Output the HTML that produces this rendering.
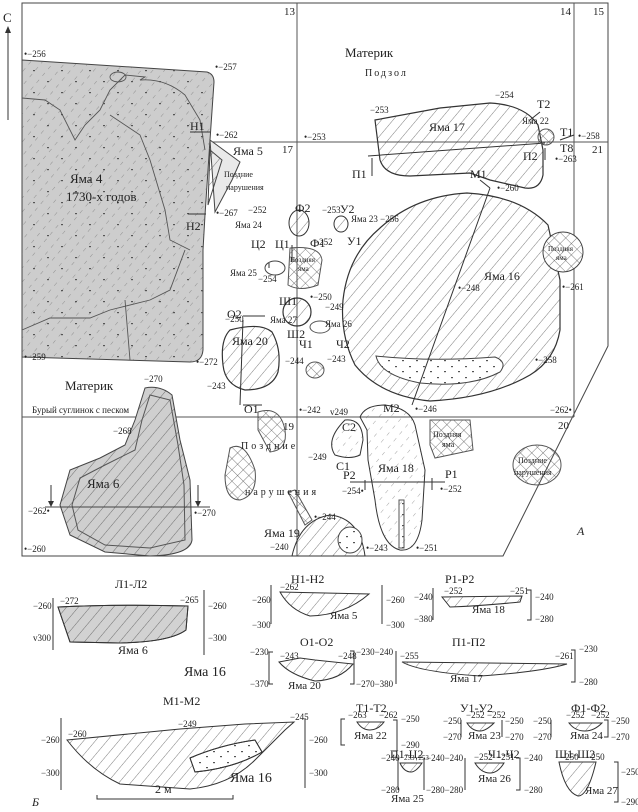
<!DOCTYPE html>
<html><head><meta charset="utf-8"><style>
html,body{margin:0;padding:0;background:#fff}
svg{display:block}
text{font-family:"Liberation Serif",serif;fill:#222}
</style></head><body>
<svg width="638" height="812" viewBox="0 0 638 812" xmlns="http://www.w3.org/2000/svg">
<defs>
<pattern id="h" width="9" height="9" patternUnits="userSpaceOnUse" patternTransform="rotate(40)">
<line x1="0" y1="0" x2="0" y2="9" stroke="#444" stroke-width="0.7"/></pattern>
<pattern id="hd" width="9" height="9" patternUnits="userSpaceOnUse" patternTransform="rotate(40)">
<line x1="0" y1="0" x2="0" y2="4" stroke="#666" stroke-width="0.6"/></pattern>
<pattern id="x" width="8" height="8" patternUnits="userSpaceOnUse" patternTransform="rotate(45)">
<line x1="0" y1="0" x2="0" y2="8" stroke="#444" stroke-width="0.7"/><line x1="0" y1="0" x2="8" y2="0" stroke="#444" stroke-width="0.7"/></pattern>
<pattern id="d" width="14" height="11" patternUnits="userSpaceOnUse">
<rect x="3" y="3" width="2" height="1.2" fill="#555"/><rect x="10" y="8" width="2" height="1.2" fill="#555"/></pattern>
<pattern id="ds" width="28" height="22" patternUnits="userSpaceOnUse">
<rect x="5" y="4" width="2" height="1.2" fill="#555"/><rect x="19" y="15" width="2" height="1.2" fill="#555"/></pattern>
</defs>
<g fill="none" stroke="#555" stroke-width="1">
<path d="M22 3 H608 V346 L503 556 H22 Z" stroke="#444"/>
<line x1="297" y1="3" x2="297" y2="556"/>
<line x1="574" y1="3" x2="574" y2="417"/>
<line x1="22" y1="142" x2="608" y2="142"/>
<line x1="22" y1="417" x2="574" y2="417"/>
</g>
<line x1="8" y1="120" x2="8" y2="30" stroke="#333"/><path d="M8 26 l-3 7 h6z" fill="#333"/>
<text x="3" y="22" font-size="13">С</text>
<text x="284" y="15" font-size="11">13</text><text x="560" y="15" font-size="11">14</text><text x="593" y="15" font-size="11">15</text>
<text x="592" y="153" font-size="11">21</text><text x="282" y="153" font-size="11">17</text>
<text x="283" y="430" font-size="11">19</text><text x="558" y="429" font-size="11">20</text>
<!-- Yama 4 -->
<path d="M22 60 L207 72 Q214 74 214 82 L210 140 L205 215 L203 250 L203 350 Q202 362 190 362 L22 357 Z" fill="#cdcdcd" stroke="#444"/>
<path d="M22 60 L207 72 Q214 74 214 82 L210 140 L205 215 L203 250 L203 350 Q202 362 190 362 L22 357 Z" fill="url(#hd)"/>
<path d="M22 60 L207 72 Q214 74 214 82 L210 140 L205 215 L203 250 L203 350 Q202 362 190 362 L22 357 Z" fill="url(#ds)"/>
<g fill="none" stroke="#555" stroke-width="0.9">
<path d="M22 98 L45 100 L60 110 L75 140 L85 125 L100 110 L110 90 L125 75 L145 77 L140 80 Q165 78 185 95 L200 120 L205 150"/>
<path d="M110 115 L140 135 L150 160 L165 210 L170 240 L190 250"/>
<path d="M22 330 L50 318 L90 318 L110 310 L150 300 L170 290 L185 250"/>
<path d="M125 300 L130 360"/>
<ellipse cx="118" cy="77" rx="8" ry="5"/>
</g>
<path d="M210 140 L240 162 L232 180 L215 212 Z" fill="#e9e9e9" stroke="#444"/>
<path d="M210 150 L222 160 L208 205 Z" fill="url(#h)" stroke="#444"/>
<!-- Yama 6 -->
<path d="M145 388 Q160 385 172 395 L180 440 L190 480 L192 540 Q190 555 150 556 L105 552 L70 535 L60 505 L70 470 L100 458 L125 445 L135 420 Z" fill="#cfcfcf" stroke="#444"/>
<path d="M145 388 Q160 385 172 395 L180 440 L190 480 L192 540 Q190 555 150 556 L105 552 L70 535 L60 505 L70 470 L100 458 L125 445 L135 420 Z" fill="url(#h)"/>
<path d="M150 395 L170 400 L178 445 L184 485 L185 540 L150 548 L105 545 L78 530 L72 505 L80 478 L105 465 L135 450 L142 420 Z" fill="none" stroke="#555"/>
<line x1="45" y1="507" x2="210" y2="507" stroke="#444"/>
<path d="M51 485 V505 M198 485 V505" stroke="#333"/><path d="M51 507 l-3 -6 h6z M198 507 l-3 -6 h6z" fill="#333"/>
<!-- Yama 17 -->
<path d="M375 120 L440 108 L490 103 Q525 105 538 125 L543 150 L543 175 Q540 190 525 188 L490 180 L470 173 L410 176 Q385 176 380 160 Z" fill="url(#h)" stroke="#333" stroke-width="1.2"/>
<line x1="368" y1="156" x2="545" y2="143" stroke="#333"/>
<!-- Yama 16 -->
<path d="M467 193 Q520 196 548 225 L560 280 L560 330 Q555 360 530 375 Q490 398 430 401 Q380 396 355 365 Q340 335 343 300 Q348 255 380 228 Q415 196 467 193 Z" fill="url(#h)" stroke="#333" stroke-width="1.2"/>
<path d="M376 356 Q430 362 495 357 Q508 362 500 372 Q470 388 420 383 Q380 375 376 356 Z" fill="#fff" stroke="#444"/>
<path d="M376 356 Q430 362 495 357 Q508 362 500 372 Q470 388 420 383 Q380 375 376 356 Z" fill="url(#d)"/>
<line x1="490" y1="188" x2="412" y2="405" stroke="#333"/>
<circle cx="563" cy="252" r="20" fill="#fff" stroke="#444"/><circle cx="563" cy="252" r="20" fill="url(#x)"/>
<path d="M360 417 Q365 405 385 405 Q410 408 415 425 L425 470 L422 520 Q418 552 400 550 Q380 545 375 500 L368 460 L367 430 Z" fill="url(#hd)" stroke="#333"/>
<path d="M345 420 Q362 418 363 440 L360 455 Q350 460 335 455 Q325 440 345 420 Z" fill="url(#hd)" stroke="#333"/>
<rect x="399" y="500" width="5" height="48" fill="url(#d)" stroke="#555"/>
<line x1="350" y1="482" x2="445" y2="482" stroke="#333"/>
<path d="M292 556 Q300 520 330 515 Q360 518 365 556 Z" fill="url(#h)" stroke="#333"/>
<ellipse cx="350" cy="540" rx="12" ry="13" fill="#fff" stroke="#444"/><ellipse cx="350" cy="540" rx="12" ry="13" fill="url(#d)"/>
<path d="M288 492 L295 490 L312 520 L305 525 Z" fill="url(#x)" stroke="#555"/>
<path d="M230 330 Q260 322 272 332 Q282 350 278 372 Q272 390 245 390 Q225 385 223 365 Q220 340 230 330 Z" fill="url(#h)" stroke="#333" stroke-width="1.2"/>
<line x1="243" y1="320" x2="240" y2="405" stroke="#333"/>
<ellipse cx="299" cy="223" rx="10" ry="13" fill="url(#h)" stroke="#333"/>
<ellipse cx="341" cy="224" rx="7" ry="8" fill="url(#h)" stroke="#333"/>
<ellipse cx="275" cy="268" rx="10" ry="7" fill="#fff" stroke="#444"/>
<path d="M290 248 Q320 245 322 260 L318 285 Q300 292 288 285 Z" fill="url(#x)" stroke="#555"/>
<circle cx="297" cy="312" r="14" fill="url(#h)" stroke="#333" stroke-width="1.2"/>
<ellipse cx="320" cy="327" rx="10" ry="6" fill="#fff" stroke="#555"/>
<ellipse cx="315" cy="370" rx="9" ry="8" fill="url(#x)" stroke="#555"/>
<circle cx="546" cy="137" r="8" fill="url(#x)" stroke="#555"/>
<path d="M430 420 L470 420 L473 450 L435 458 L430 445 Z" fill="url(#x)" stroke="#555"/>
<ellipse cx="537" cy="465" rx="24" ry="20" fill="url(#x)" stroke="#555"/>
<path d="M258 412 Q280 405 285 430 Q288 450 270 452 L258 430 Z" fill="url(#x)" stroke="#555"/>
<path d="M230 448 Q245 440 255 470 Q258 495 240 500 Q225 500 225 475 Z" fill="url(#x)" stroke="#555"/>
<g font-size="12">
<text x="70" y="183" font-size="13">Яма 4</text><text x="66" y="201" font-size="13">1730-х годов</text>
<text x="233" y="155">Яма 5</text>
<text x="345" y="57" font-size="13">Материк</text>
<text x="365" y="76" font-size="10" letter-spacing="2">Подзол</text>
<text x="429" y="131">Яма 17</text>
<text x="484" y="280">Яма 16</text>
<text x="65" y="390" font-size="13">Материк</text>
<text x="32" y="413" font-size="9">Бурый суглинок с песком</text>
<text x="87" y="488" font-size="13">Яма 6</text>
<text x="232" y="345" font-size="12">Яма 20</text>
<text x="378" y="472">Яма 18</text>
<text x="264" y="537">Яма 19</text>
<text x="241" y="449" font-size="10" letter-spacing="3">Поздние</text>
<text x="245" y="495" font-size="10" letter-spacing="3">нарушения</text>
</g>
<g font-size="9">
<text x="24" y="57">•−256</text><text x="215" y="70">•−257</text><text x="216" y="138">•−262</text>
<text x="216" y="216">•−267</text><text x="304" y="140">•−253</text><text x="370" y="113">−253</text>
<text x="495" y="98">−254</text><text x="578" y="139">•−258</text><text x="555" y="162">•−263</text>
<text x="497" y="191">•−260</text><text x="458" y="291">•−248</text><text x="562" y="290">•−261</text>
<text x="535" y="363">•−258</text><text x="415" y="412">•−246</text><text x="550" y="413">−262•</text>
<text x="24" y="360">•−259</text><text x="196" y="365">•−272</text><text x="144" y="382">−270</text>
<text x="113" y="434">−268</text><text x="28" y="514">−262•</text><text x="194" y="516">•−270</text>
<text x="24" y="552">•−260</text><text x="225" y="322">−250</text><text x="207" y="389">−243</text>
<text x="285" y="364">−244</text><text x="327" y="362">−243</text><text x="299" y="413">•−242</text>
<text x="330" y="415">v249</text><text x="308" y="460">−249</text><text x="342" y="494">−254•</text>
<text x="440" y="492">•−252</text><text x="314" y="520">•−244</text><text x="270" y="550">−240</text>
<text x="366" y="551">•−243</text><text x="416" y="551">•−251</text>
<text x="248" y="213">−252</text><text x="322" y="213">−253</text><text x="351" y="222">Яма 23 −256</text>
<text x="314" y="245">−252</text><text x="310" y="300">•−250</text><text x="325" y="310">−249</text>
<text x="258" y="282">−254</text><text x="230" y="276">Яма 25</text><text x="235" y="228">Яма 24</text>
<text x="270" y="323">Яма 27</text><text x="325" y="327">Яма 26</text><text x="522" y="124">Яма 22</text>
<text x="548" y="251" font-size="7">Поздняя</text><text x="556" y="260" font-size="7">яма</text>
<text x="433" y="437" font-size="8">Поздняя</text><text x="442" y="447" font-size="8">яма</text>
<text x="518" y="463" font-size="8">Поздние</text><text x="514" y="475" font-size="8">нарушения</text>
<text x="290" y="262" font-size="7">Поздняя</text><text x="298" y="271" font-size="7">яма</text>
<text x="224" y="177" font-size="8">Поздние</text><text x="226" y="190" font-size="8">нарушения</text>
</g>
<g font-size="12">
<text x="190" y="130">Н1</text><text x="186" y="230">Н2</text>
<text x="352" y="178">П1</text><text x="523" y="160">П2</text>
<text x="470" y="178">М1</text><text x="383" y="412">М2</text>
<text x="537" y="108">Т2</text><text x="560" y="136">Т1</text><text x="560" y="152">Т8</text>
<text x="227" y="318">О2</text><text x="244" y="413">О1</text>
<text x="295" y="212">Ф2</text><text x="310" y="247">Ф1</text>
<text x="340" y="213">У2</text><text x="347" y="245">У1</text>
<text x="251" y="248">Ц2</text><text x="275" y="248">Ц1</text>
<text x="279" y="305">Ш1</text><text x="287" y="338">Ш2</text>
<text x="299" y="348">Ч1</text><text x="336" y="348">Ч2</text>
<text x="342" y="431">С2</text><text x="336" y="470">С1</text>
<text x="343" y="479">Р2</text><text x="445" y="478">Р1</text>
<text x="577" y="535" font-style="italic">А</text>
</g>
<g stroke="#333" fill="none">
<path d="M190 132 H210 M188 214 H206 M372 176 V158 M545 160 V148 M480 180 L490 188 M540 112 L530 120 M574 135 L560 140 M243 316 H265 M243 405 H262 M269 263 V268 M292 245 V262 M365 480 V490 M432 478 V490"/>
</g>
<g stroke="#333" fill="none" stroke-width="1">
<line x1="53" y1="598" x2="53" y2="650"/><line x1="204" y1="590" x2="204" y2="655"/>
<line x1="271" y1="585" x2="271" y2="624"/><line x1="382" y1="585" x2="382" y2="624"/>
<line x1="433" y1="588" x2="433" y2="620"/><path d="M527 590 h4 v30 h-4"/>
<path d="M273 652 h-4 v32 h4"/><path d="M350 651 h4 v33 h-4"/><line x1="396" y1="651" x2="396" y2="684"/>
<path d="M571 650 h4 v32 h-4"/>
<line x1="61" y1="718" x2="61" y2="790"/><line x1="305" y1="718" x2="305" y2="788"/>
<path d="M345 719 h-4 v26 h4"/><path d="M393 720 h4 v31 h-4"/>
<line x1="461" y1="720" x2="461" y2="737"/><line x1="502" y1="720" x2="502" y2="737"/>
<line x1="551" y1="720" x2="551" y2="737"/><path d="M604 720 h4 v17 h-4"/>
<line x1="398" y1="758" x2="398" y2="790"/><line x1="424" y1="758" x2="424" y2="790"/>
<line x1="465" y1="758" x2="465" y2="790"/><path d="M516 758 h4 v32 h-4"/>
<path d="M614 762 h4 v40 h-4"/>
<path d="M97 795 v4 h136 v-4"/>
</g>
<g stroke="#333" stroke-width="1">
<path d="M58 607 Q120 604 188 606 L186 630 Q170 642 120 643 L70 642 Z" fill="#d2d2d2"/>
<path d="M58 607 Q120 604 188 606 L186 630 Q170 642 120 643 L70 642 Z" fill="url(#h)"/>
<path d="M280 592 L369 594 Q345 615 310 616 Q290 610 280 592 Z" fill="url(#h)"/>
<path d="M442 597 L522 596 L520 602 Q480 606 450 607 Z" fill="url(#h)"/>
<path d="M279 662 L300 658 L315 660 L353 664 Q340 680 315 681 Q290 675 279 662 Z" fill="url(#h)"/>
<path d="M402 662 L567 664 Q540 672 480 676 Q420 672 402 662 Z" fill="url(#h)"/>
<path d="M67 740 L180 729 L245 724 L294 722 L285 730 L255 760 Q230 785 190 789 L120 784 Q90 770 67 740 Z" fill="url(#h)"/>
<path d="M190 758 Q220 745 255 740 L262 752 Q235 768 195 772 Z" fill="#fff"/>
<path d="M190 758 Q220 745 255 740 L262 752 Q235 768 195 772 Z" fill="url(#d)"/>
<path d="M357 722 L384 722 Q378 730 370 730 Q362 730 357 722 Z" fill="url(#h)"/>
<path d="M467 723 L494 723 Q486 731 480 731 Q472 731 467 723 Z" fill="url(#h)"/>
<path d="M569 723 L602 723 Q594 731 585 731 Q575 731 569 723 Z" fill="url(#h)"/>
<path d="M400 763 L422 763 Q416 772 411 772 Q404 772 400 763 Z" fill="url(#h)"/>
<path d="M475 763 L504 763 Q498 773 490 773 Q481 773 475 763 Z" fill="url(#h)"/>
<path d="M559 762 L596 762 Q588 796 578 796 Q565 792 559 762 Z" fill="url(#h)"/>
</g>
<g font-size="12">
<text x="115" y="588">Л1-Л2</text><text x="291" y="583">Н1-Н2</text><text x="445" y="583">Р1-Р2</text>
<text x="300" y="646">О1-О2</text><text x="452" y="646">П1-П2</text><text x="163" y="705">М1-М2</text>
<text x="356" y="712">Т1-Т2</text><text x="460" y="712">У1-У2</text><text x="571" y="712">Ф1-Ф2</text>
<text x="390" y="758">Ц1-Ц2</text><text x="488" y="758">Ч1-Ч2</text><text x="555" y="758">Ш1-Ш2</text>
<text x="118" y="654">Яма 6</text><text x="184" y="676" font-size="14">Яма 16</text>
<text x="330" y="619" font-size="11">Яма 5</text><text x="472" y="613" font-size="11">Яма 18</text>
<text x="288" y="689" font-size="11">Яма 20</text><text x="450" y="682" font-size="11">Яма 17</text>
<text x="230" y="782" font-size="14">Яма 16</text><text x="354" y="739" font-size="11">Яма 22</text>
<text x="468" y="739" font-size="11">Яма 23</text><text x="570" y="739" font-size="11">Яма 24</text>
<text x="391" y="802" font-size="11">Яма 25</text><text x="478" y="782" font-size="11">Яма 26</text>
<text x="585" y="794" font-size="11">Яма 27</text>
<text x="155" y="793">2 м</text><text x="32" y="806" font-style="italic">Б</text>
</g>
<g font-size="9">
<text x="33" y="609">−260</text><text x="33" y="641">v300</text><text x="208" y="609">−260</text><text x="208" y="641">−300</text>
<text x="60" y="604">−272</text><text x="180" y="603">−265</text>
<text x="252" y="603">−260</text><text x="252" y="628">−300</text><text x="386" y="603">−260</text><text x="386" y="628">−300</text>
<text x="280" y="590">−262</text>
<text x="414" y="600">−240</text><text x="414" y="622">−380</text><text x="535" y="600">−240</text><text x="535" y="622">−280</text>
<text x="444" y="594">−252</text><text x="510" y="594">−251</text>
<text x="250" y="655">−230</text><text x="250" y="687">−370</text><text x="356" y="655">−230−240</text><text x="356" y="687">−270−380</text>
<text x="280" y="659">−243</text><text x="338" y="659">−248</text><text x="400" y="659">−255</text><text x="555" y="659">−261</text>
<text x="579" y="652">−230</text><text x="579" y="685">−280</text>
<text x="41" y="743">−260</text><text x="41" y="776">−300</text><text x="309" y="743">−260</text><text x="309" y="776">−300</text>
<text x="68" y="737">−260</text><text x="178" y="727">−249</text><text x="290" y="720">−245</text>
<text x="348" y="718">−263</text><text x="379" y="718">−262</text><text x="401" y="722">−250</text><text x="401" y="748">−290</text>
<text x="443" y="724">−250</text><text x="443" y="740">−270</text><text x="505" y="724">−250</text><text x="505" y="740">−270</text>
<text x="466" y="718">−252</text><text x="487" y="718">−252</text>
<text x="533" y="724">−250</text><text x="533" y="740">−270</text><text x="611" y="724">−250</text><text x="611" y="740">−270</text>
<text x="566" y="718">−252</text><text x="591" y="718">−252</text>
<text x="381" y="761">−240</text><text x="381" y="793">−280</text><text x="426" y="761">−240−240</text><text x="426" y="793">−280−280</text>
<text x="400" y="760" font-size="7">−253−253</text><text x="474" y="760">−252</text><text x="496" y="760">−251</text>
<text x="524" y="761">−240</text><text x="524" y="793">−280</text>
<text x="560" y="760">−250</text><text x="586" y="760">−250</text><text x="621" y="775">−250</text><text x="621" y="805">−290</text>
</g>
</svg>
</body></html>
